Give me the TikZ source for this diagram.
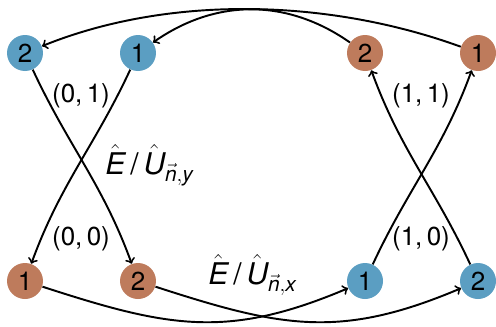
\documentclass[tikz,border=0pt]{standalone}
\usepackage{amsmath}
\usepackage{fontspec}
\setmainfont{TeX Gyre Heros}
\usetikzlibrary{positioning,calc,arrows}
\definecolor{siteblue}{RGB}{91,158,194}
\definecolor{sitebrown}{RGB}{190,123,92}

\begin{document}
\begin{tikzpicture}[x=0.02cm,y=0.02cm,
	site/.style={circle,minimum size=0.72cm,inner sep=0pt,font=\fontsize{14.8}{17}\selectfont},
	blue site/.style={site,fill=siteblue},
	brown site/.style={site,fill=sitebrown},
	hop/.style={->,line width=1.1pt},
	pairlab/.style={font=\fontsize{14.8}{17}\selectfont,inner sep=0pt},
	oplab/.style={font=\fontsize{17}{20}\selectfont,inner sep=0pt,anchor=west}]
		\useasboundingbox (0,0) rectangle (496,326);
		
		% top row
		\node[blue site] (tb2) at (25,273) {2};
		\node[blue site] (tb1) at (138,273) {1};
		\node[brown site] (tr2) at (365,273) {2};
		\node[brown site] (tr1) at (478,273) {1};
		% bottom row
		\node[brown site] (br1) at (25,45) {1};
		\node[brown site] (br2) at (138,45) {2};
		\node[blue site] (bb1) at (365,45) {1};
		\node[blue site] (bb2) at (478,45) {2};
		
		\draw[hop] (tb2) to[out=-65,in=110] (br2);
		\draw[hop] (tb1) to[out=-115,in=70] (br1);
		\draw[hop] (bb1) to[out=65,in=-110] (tr1);
		\draw[hop] (bb2) to[out=115,in=-70] (tr2);
		
		\draw[hop] (tr1) to[out=160,in=22,looseness=0.85] (tb2);
		\draw[hop] (tr2) to[out=145,in=35] (tb1);
		\draw[hop] (br1) to[out=-18,in=-157,looseness=1.1] (bb1);
		\draw[hop] (br2) to[out=-18,in=-157,looseness=1.1] (bb2);
		
		\node[pairlab] (l01) at (81,230) {(0,\,1)};
		\node[pairlab] (l11) at (421,230) {(1,\,1)};
		\node[pairlab] (l00) at (81,87) {(0,\,0)};
		\node[pairlab] (l10) at (421,87) {(1,\,0)};
		\node[oplab] (opy) at (105,161) {$\hat{\textit{E}}$\,/\,$\hat{\textit{U}}_{\vec{\textit{n}},\textit{y}}$};
		\node[oplab] (opx) at (208,51) {$\hat{\textit{E}}$\,/\,$\hat{\textit{U}}_{\vec{\textit{n}},\textit{x}}$};
		
	\end{tikzpicture}
\end{document}
